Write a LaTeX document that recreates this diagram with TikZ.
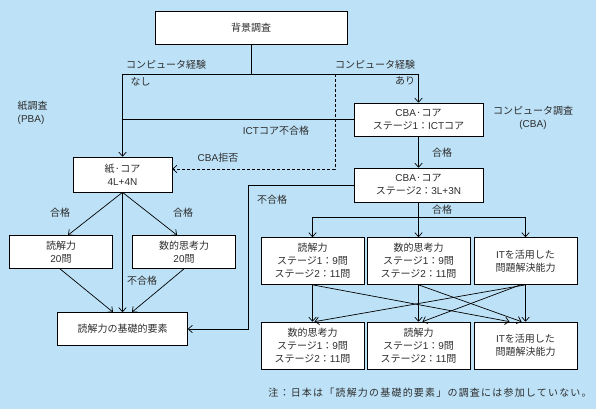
\documentclass[tikz,border=0pt]{standalone}
\usepackage{fontspec}
\setmainfont{Noto Sans CJK JP}
\newfontfamily\latnfont{Liberation Sans}
\newcommand{\latn}[1]{{\latnfont #1}}
\usetikzlibrary{arrows.meta}
\definecolor{bgblue}{RGB}{189,226,247}
\definecolor{inkgray}{RGB}{45,45,45}

\begin{document}
\begin{tikzpicture}[x=1pt,y=-1pt,line width=0.7pt,
		every node/.style={font=\fontsize{10}{13}\selectfont,text=inkgray},
		box/.style={draw=black,fill=white,align=center,inner sep=0pt},
		corebox/.style={box,minimum width=129pt,minimum height=33pt},
		paperbox/.style={box,minimum width=103pt,minimum height=33pt},
		modbox/.style={box,minimum width=103pt,minimum height=47pt},
		arr/.style={-{Straight Barb[length=4pt,width=7.5pt]}}]
			\fill[bgblue] (0,0) rectangle (596,409);

			\node[box,minimum width=192pt,minimum height=33pt] at (251,27.5) (survey) {背景調査};
			\node[box,minimum width=99pt,minimum height=35pt] at (122.5,174.5) (paper) {紙·コア\\\latn{4L+4N}};
			\node[corebox] at (418.5,119.5) (cbaone) {\latn{CBA}·コア\\ステージ\latn{1}：\latn{ICT}コア};
			\node[corebox,minimum height=34pt] at (418.5,185) (cbatwo) {\latn{CBA}·コア\\ステージ\latn{2}：\latn{3L+3N}};
			\node[paperbox] at (61,252) (read20) {読解力\\\latn{20}問};
			\node[paperbox] at (184,252) (num20) {数的思考力\\\latn{20}問};
			\node[box,minimum width=130pt,minimum height=33pt] at (122.5,329) (basic) {読解力の基礎的要素};

			\node[modbox] at (312.5,261) (litone) {読解力\\ステージ\latn{1}：\latn{9}問\\ステージ\latn{2}：\latn{11}問};
			\node[modbox] at (418.5,261) (numone) {数的思考力\\ステージ\latn{1}：\latn{9}問\\ステージ\latn{2}：\latn{11}問};
			\node[modbox] at (525.5,261) (psone) {\latn{IT}を活用した\\問題解決能力};
			\node[modbox] at (312.5,345.5) (numtwo) {数的思考力\\ステージ\latn{1}：\latn{9}問\\ステージ\latn{2}：\latn{11}問};
			\node[modbox] at (418.5,345.5) (littwo) {読解力\\ステージ\latn{1}：\latn{9}問\\ステージ\latn{2}：\latn{11}問};
			\node[modbox] at (525.5,345.5) (pstwo) {\latn{IT}を活用した\\問題解決能力};

			\node[anchor=west,align=left] at (14,113) (pba) {紙調査\\\latn{(PBA)}};
			\node[align=center] at (533,118) (cba) {コンピュータ調査\\\latn{(CBA)}};
			\node at (166,65) (expleft) {コンピュータ経験};
			\node[anchor=west] at (127,82) (nolbl) {なし};
			\node at (375,65) (expright) {コンピュータ経験};
			\node at (405,81) (yeslbl) {あり};
			\node at (276,131) (ictfail) {\latn{ICT}コア不合格};
			\node at (218,158) (refuse) {\latn{CBA}拒否};
			\node at (442,153) (passone) {合格};
			\node at (442,210) (passtwo) {合格};
			\node at (272,200) (failtwo) {不合格};
			\node at (60,213) (passread) {合格};
			\node at (183,213) (passnum) {合格};
			\node at (142,281) (failpaper) {不合格};
			\node at (430,393) (note) {\addfontfeatures{LetterSpace=12}注：日本は「読解力の基礎的要素」の調査には参加していない。};

			\coordinate (split) at (251,74);
			\coordinate (noexp) at (122.5,74);
			\coordinate (yesexp) at (418.5,74);
			\coordinate (refuseturn) at (335,74);
			\coordinate (refusecorner) at (335,169);
			\coordinate (failturn) at (248,185);
			\coordinate (failcorner) at (248,329);
			\coordinate (passsplit) at (418.5,217);
			\coordinate (splitleft) at (312.5,217);
			\coordinate (splitright) at (525.5,217);

			\draw (survey) -- (split);
			\draw (noexp) -- (yesexp);
			\draw[arr] (noexp) -- (paper);
			\draw[arr] (yesexp) -- (cbaone);
			\draw (cbaone.west) -- (cbaone.west -| noexp);
			\draw[arr,densely dashed] (refuseturn) -- (refusecorner) -- (refusecorner -| paper.east);
			\draw[arr] (cbaone) -- (cbatwo);
			\draw[arr] (cbatwo.west) -- (failturn) -- (failcorner) -- (basic.east);
			\draw (cbatwo) -- (passsplit);
			\draw (splitleft) -- (splitright);
			\draw[arr] (splitleft) -- (litone);
			\draw[arr] (passsplit) -- (numone);
			\draw[arr] (splitright) -- (psone);

			\draw[arr] (paper.south) -- ([xshift=7pt]read20.north);
			\draw[arr] (paper.south) -- ([xshift=-7pt]num20.north);
			\draw[arr] (paper) -- (basic);
			\draw[arr] ([xshift=-1pt]read20.south) -- ([xshift=-9.5pt]basic.north);
			\draw[arr] (num20.south) -- ([xshift=9.5pt]basic.north);

			\draw[arr] (litone) -- (numtwo);
			\draw[arr] (litone.south) -- ([xshift=-16pt]pstwo.north);
			\draw[arr] (numone) -- (littwo);
			\draw[arr] (numone.south) -- ([xshift=-4pt]pstwo.north);
			\draw[arr] (psone) -- (pstwo);
			\draw[arr] (psone.south) -- ([xshift=2pt]numtwo.north);
			\draw[arr] ([xshift=-5pt]psone.south) -- ([xshift=4pt]littwo.north);
		\end{tikzpicture}
\end{document}
